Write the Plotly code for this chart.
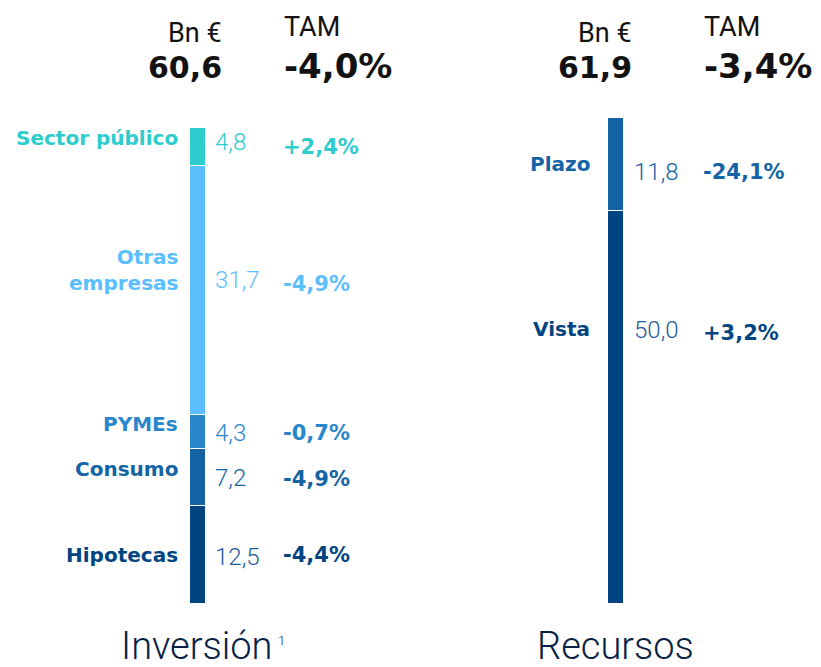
import plotly.graph_objects as go

# ---------------- data ----------------
inv_categories = ["Hipotecas", "Consumo", "PYMEs", "Otras<br>empresas", "Sector público"]
inv_values = [12.5, 7.2, 4.3, 31.7, 4.8]
inv_value_labels = ["12,5", "7,2", "4,3", "31,7", "4,8"]
inv_tam = ["-4,4%", "-4,9%", "-0,7%", "-4,9%", "+2,4%"]
inv_total = "60,6"
inv_total_tam = "-4,0%"

rec_categories = ["Vista", "Plazo"]
rec_values = [50.0, 11.8]
rec_value_labels = ["50,0", "11,8"]
rec_tam = ["+3,2%", "-24,1%"]
rec_total = "61,9"
rec_total_tam = "-3,4%"

group_titles = ["Inversión", "Recursos"]
footnote_mark = "1"

# ---------------- style ----------------
W, H = 821, 667
OFF = 8  # page offset of the plot div (body margin)
inv_colors = ["#004481", "#1464A5", "#2A86CA", "#5BBEFF", "#2DCCCD"]
inv_val_colors = ["#1F5A96", "#1464A5", "#2A86CA", "#5BBEFF", "#2DCCCD"]
rec_colors = ["#004481", "#1464A5"]
rec_val_colors = ["#1F5A96", "#1464A5"]
inv_label_shift = [0, 8, 8, 20, 9]       # pixel shift of category labels
inv_val_shift = [-2, -1, -1, 10, 5]
inv_pct_shift = [0, -2, -1, 6, 0]
rec_label_shift = [78, 0]
rec_val_shift = [77, -8]
rec_pct_shift = [74, -8]

x_inv, x_rec = 198, 615.5
bar_w = 16
px_per_unit = 7.87
base_px = 604
y_max = (base_px - OFF) / px_per_unit
y_min = (base_px - (H + OFF)) / px_per_unit

LIGHT = "Roboto"
BOLD = "DejaVu Sans"
fig = go.Figure()


def add_stack(xpos, vals, colors):
    for v, c in zip(vals, colors):
        fig.add_trace(go.Bar(x=[xpos], y=[v], width=bar_w,
                             marker=dict(color=c, line=dict(color="white", width=1.5)),
                             showlegend=False, hoverinfo="skip"))


add_stack(x_inv, inv_values, inv_colors)
add_stack(x_rec, rec_values, rec_colors)

ann = []


def mids(vals):
    out, c = [], 0
    for v in vals:
        out.append(c + v / 2)
        c += v
    return out


def add_labels(cats, vals, vlabels, tams, colors, vcolors, lsh, vsh, psh, lx, vx, px):
    for cat, m, vl, t, c, vc, a, b, d in zip(cats, mids(vals), vlabels, tams, colors, vcolors, lsh, vsh, psh):
        ann.append(dict(x=lx, y=m, xref="x", yref="y", text=cat, showarrow=False,
                        xanchor="right", yanchor="middle", align="right", yshift=a,
                        font=dict(family=BOLD, size=20, color=c, weight="bold")))
        ann.append(dict(x=vx, y=m, xref="x", yref="y", text=vl, showarrow=False,
                        xanchor="left", yanchor="middle", yshift=b,
                        font=dict(family=LIGHT, size=24, color=vc, weight=300)))
        ann.append(dict(x=px, y=m, xref="x", yref="y", text=t, showarrow=False,
                        xanchor="left", yanchor="middle", yshift=d,
                        font=dict(family=BOLD, size=21, color=c, weight="bold")))


add_labels(inv_categories, inv_values, inv_value_labels, inv_tam, inv_colors,
           inv_val_colors, inv_label_shift, inv_val_shift, inv_pct_shift, 180, 213, 281)
add_labels(rec_categories, rec_values, rec_value_labels, rec_tam, rec_colors,
           rec_val_colors, rec_label_shift, rec_val_shift, rec_pct_shift, 592, 632, 701)


def py(p):
    return 1 - (p - OFF) / H


header_x = [(224, 282, inv_total, inv_total_tam), (634, 702, rec_total, rec_total_tam)]
for xr, xl, total, tam in header_x:
    ann.append(dict(x=xr, y=py(33), xref="x", yref="paper", text="Bn €", showarrow=False,
                    xanchor="right", yanchor="middle",
                    font=dict(family=LIGHT, size=27, color="#121212", weight=400)))
    ann.append(dict(x=xr, y=py(67), xref="x", yref="paper", text=total, showarrow=False,
                    xanchor="right", yanchor="middle",
                    font=dict(family=BOLD, size=30, color="#121212", weight="bold")))
    ann.append(dict(x=xl, y=py(27), xref="x", yref="paper", text="TAM", showarrow=False,
                    xanchor="left", yanchor="middle",
                    font=dict(family=LIGHT, size=27, color="#121212", weight=400)))
    ann.append(dict(x=xl, y=py(66), xref="x", yref="paper", text=tam, showarrow=False,
                    xanchor="left", yanchor="middle",
                    font=dict(family=BOLD, size=34, color="#121212", weight="bold")))

for xc, t in zip([197, x_rec], group_titles):
    ann.append(dict(x=xc, y=py(646), xref="x", yref="paper", text=t, showarrow=False,
                    xanchor="center", yanchor="middle",
                    font=dict(family=LIGHT, size=38, color="#072146", weight=300)))
ann.append(dict(x=276, y=py(640), xref="x", yref="paper", text=footnote_mark, showarrow=False,
                xanchor="left", yanchor="middle",
                font=dict(family=LIGHT, size=13, color="#072146", weight=300)))

fig.update_layout(
    width=W, height=H, barmode="stack", bargap=0,
    margin=dict(l=0, r=0, t=0, b=0),
    paper_bgcolor="white", plot_bgcolor="white",
    xaxis=dict(range=[OFF, W + OFF], visible=False, fixedrange=True),
    yaxis=dict(range=[y_min, y_max], visible=False, fixedrange=True),
    annotations=ann,
)

fig.write_html("out.html")
